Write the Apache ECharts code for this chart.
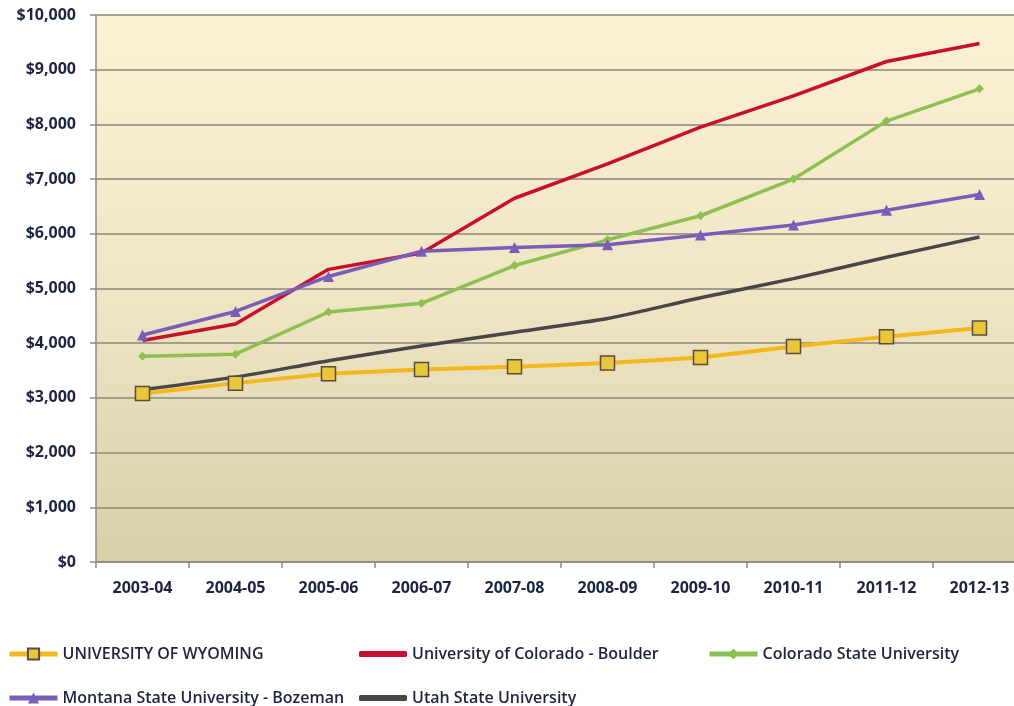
<!DOCTYPE html>
<html><head><meta charset="utf-8">
<script src="https://cdn.jsdelivr.net/npm/echarts@6/dist/echarts.min.js"></script>
<style>html,body{margin:0;padding:0;background:#fff;overflow:hidden;width:1014px;height:706px}#c{width:1030px;height:706px}</style>
</head><body><div id="c"></div>
<script>
const categories = ['2003-04','2004-05','2005-06','2006-07','2007-08','2008-09','2009-10','2010-11','2011-12','2012-13'];
const wyoming  = [3080, 3270, 3440, 3520, 3570, 3640, 3740, 3940, 4120, 4280];
const cuBoulder = [4050, 4350, 5350, 5650, 6650, 7280, 7950, 8520, 9150, 9480];
const csu      = [3760, 3800, 4570, 4730, 5420, 5890, 6330, 7000, 8060, 8650];
const montana  = [4150, 4580, 5220, 5680, 5750, 5800, 5980, 6160, 6430, 6720];
const utah     = [3150, 3380, 3680, 3950, 4200, 4450, 4830, 5180, 5570, 5940];
const seriesNames = ['UNIVERSITY OF WYOMING','University of Colorado - Boulder','Colorado State University','Montana State University - Bozeman','Utah State University'];

const txt = '#1c2540';
const font = 'Open Sans';
function legendAt(name, left, top, plain){
  const l = {data:[name], left:left, top:top, padding:0, itemWidth:48, itemHeight:14, itemGap:0,
    lineStyle:{width:5},
    textStyle:{fontFamily:font, fontSize:16, fontWeight:600, color:txt}};
  if (plain){ l.icon = 'roundRect'; l.itemHeight = 6; }
  return l;
}
const chart = echarts.init(document.getElementById('c'), null, {renderer:'canvas'});
chart.setOption({
  animation:false,
  backgroundColor:'#ffffff',
  grid:{left:96, top:15, right:4, bottom:144, show:true, borderWidth:0,
    backgroundColor:{type:'linear',x:0,y:0,x2:0,y2:1,colorStops:[{offset:0,color:'#fcf1d3'},{offset:0.5,color:'#f0e6c6'},{offset:1,color:'#d9cfa7'}]}},
  legend:[
    legendAt(seriesNames[0], 7, 646, false),
    legendAt(seriesNames[1], 359, 646, true),
    legendAt(seriesNames[2], 707, 646, false),
    legendAt(seriesNames[3], 7, 690, false),
    legendAt(seriesNames[4], 359, 690, true)
  ],
  xAxis:{type:'category', data:categories, boundaryGap:true,
    axisLine:{lineStyle:{color:'#8c8a82', width:1.5}},
    axisTick:{show:true, length:6, lineStyle:{color:'#8c8a82', width:1.5}},
    axisLabel:{fontFamily:font, fontSize:16, fontWeight:'bold', color:txt, margin:18}},
  yAxis:{type:'value', min:0, max:10000, interval:1000,
    axisLine:{show:true, lineStyle:{color:'#8c8a82', width:1.5}},
    axisTick:{show:true, length:6, lineStyle:{color:'#8c8a82', width:1.5}},
    splitLine:{lineStyle:{color:'#8a877c', width:1.5}},
    axisLabel:{fontFamily:font, fontSize:16, fontWeight:'bold', color:txt, margin:20,
      formatter:v=>'$'+v.toLocaleString('en-US')}},
  series:[
    {name:seriesNames[0], type:'line', data:wyoming, z:5,
     lineStyle:{color:'#f4b81c', width:4}, symbol:'rect', symbolSize:14,
     itemStyle:{color:'#e8c83a', borderColor:'#5a4a40', borderWidth:1.5}},
    {name:seriesNames[1], type:'line', data:cuBoulder, z:4,
     lineStyle:{color:'#c8102e', width:3.5}, symbol:'none', itemStyle:{color:'#c8102e'}},
    {name:seriesNames[2], type:'line', data:csu, z:3,
     lineStyle:{color:'#8cc152', width:3.5}, symbol:'diamond', symbolSize:9,
     itemStyle:{color:'#8cc152'}},
    {name:seriesNames[3], type:'line', data:montana, z:4,
     lineStyle:{color:'#7b5cb8', width:3.5}, symbol:'triangle', symbolSize:11,
     itemStyle:{color:'#7b5cb8'}},
    {name:seriesNames[4], type:'line', data:utah, z:3, smooth:0.2,
     lineStyle:{color:'#474747', width:3.5}, symbol:'none', itemStyle:{color:'#474747'}}
  ]
});
</script></body></html>
